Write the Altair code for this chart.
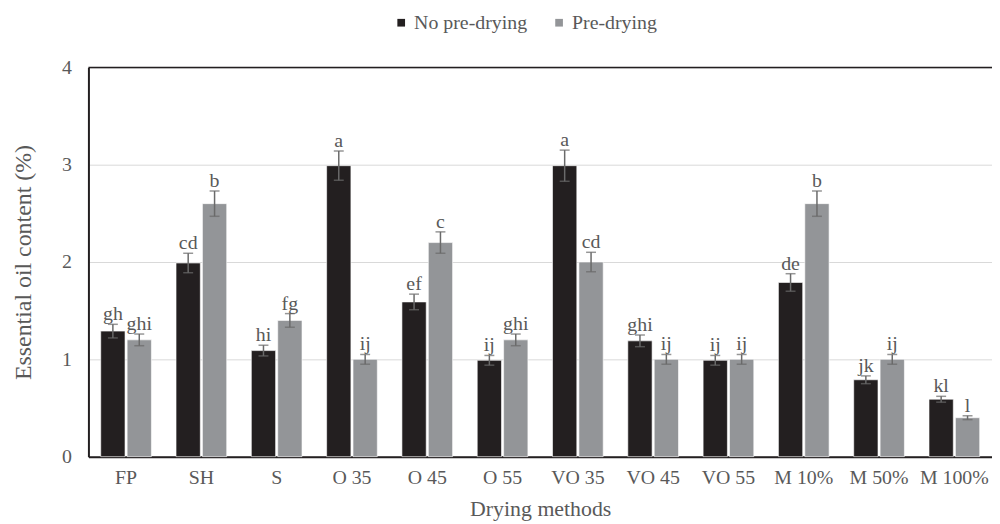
import altair as alt
import pandas as pd

methods = ["FP", "SH", "S", "O 35", "O 45", "O 55", "VO 35", "VO 45", "VO 55", "M 10%", "M 50%", "M 100%"]
series_names = ["No pre-drying", "Pre-drying"]

no_pre = [1.29, 1.99, 1.09, 2.99, 1.59, 0.99, 2.99, 1.19, 0.99, 1.79, 0.79, 0.59]
pre = [1.20, 2.60, 1.40, 1.00, 2.20, 1.20, 2.00, 1.00, 1.00, 2.60, 1.00, 0.40]
no_pre_err = [0.07, 0.10, 0.055, 0.15, 0.08, 0.05, 0.16, 0.06, 0.05, 0.09, 0.04, 0.03]
pre_err = [0.06, 0.13, 0.07, 0.05, 0.11, 0.06, 0.10, 0.05, 0.05, 0.13, 0.05, 0.02]
no_pre_letters = ["gh", "cd", "hi", "a", "ef", "ij", "a", "ghi", "ij", "de", "jk", "kl"]
pre_letters = ["ghi", "b", "fg", "ij", "c", "ghi", "cd", "ij", "ij", "b", "ij", "l"]

rows = []
for i, m in enumerate(methods):
    rows.append(dict(method=m, series=series_names[0], value=no_pre[i], err=no_pre_err[i], lbl=no_pre_letters[i]))
    rows.append(dict(method=m, series=series_names[1], value=pre[i], err=pre_err[i], lbl=pre_letters[i]))
df = pd.DataFrame(rows)
df["lo"] = df["value"] - df["err"]
df["hi"] = df["value"] + df["err"]

FONT = "Liberation Serif"
TXT = "#595959"
DARK = "#231f20"
GRAY = "#939598"
ERR = "#6a6a6a"
YT = "Essential oil content (%)"

base = alt.Chart(df).encode(
    x=alt.X("method:N", sort=methods, title="Drying methods",
            scale=alt.Scale(paddingInner=0.327, paddingOuter=0.1635)),
    xOffset=alt.XOffset("series:N", sort=series_names,
                        scale=alt.Scale(paddingInner=0.08, paddingOuter=0)),
)

yscale = alt.Scale(domain=[0, 4])

bars = base.mark_bar(stroke="white", strokeWidth=0.6).encode(
    y=alt.Y("value:Q", scale=yscale, title=YT,
            axis=alt.Axis(values=[0, 1, 2, 3, 4], format="d")),
    color=alt.Color("series:N", sort=series_names,
                    scale=alt.Scale(domain=series_names, range=[DARK, GRAY]),
                    legend=alt.Legend(title=None, orient="none", direction="horizontal",
                                      legendX=305, legendY=-55, symbolType="square",
                                      symbolSize=60, symbolStrokeWidth=0,
                                      labelFont=FONT, labelFontSize=20, labelColor=TXT,
                                      columnPadding=22, labelOffset=3)),
)

rules = base.mark_rule(color=ERR, strokeWidth=1.5).encode(
    y=alt.Y("lo:Q", scale=yscale, title=YT), y2="hi:Q")
cap_hi = base.mark_tick(color=ERR, size=10, thickness=1.5).encode(
    y=alt.Y("hi:Q", scale=yscale, title=YT))
cap_lo = base.mark_tick(color=ERR, size=10, thickness=1.5).encode(
    y=alt.Y("lo:Q", scale=yscale, title=YT))
labels = base.mark_text(baseline="alphabetic", dy=-4, font=FONT, fontSize=20, color=TXT).encode(
    y=alt.Y("hi:Q", scale=yscale, title=YT), text="lbl:N")

top = alt.Chart(pd.DataFrame({"v": [4]})).mark_rule(color=DARK, strokeWidth=1.5).encode(
    y=alt.Y("v:Q", scale=yscale, title=YT))

chart = alt.layer(bars, rules, cap_hi, cap_lo, labels, top).properties(
    width=910, height=392,
    autosize=alt.AutoSizeParams(type="none"),
    padding={"left": 81, "top": 58, "right": 0, "bottom": 66},
).configure(font=FONT).configure_view(stroke="#d9d9d9", strokeWidth=1).configure_axisY(
    grid=True, gridColor="#d9d9d9", gridWidth=1, domainColor=DARK, domainWidth=2,
    ticks=False, labelFont=FONT, labelFontSize=20, labelColor=TXT, labelPadding=17,
    titleFont=FONT, titleFontSize=24, titleColor=TXT, titleFontWeight="normal", titlePadding=26,
).configure_axisX(
    grid=False, domainColor=DARK, domainWidth=2, ticks=False, labelAngle=0,
    labelFont=FONT, labelFontSize=20, labelColor=TXT, labelPadding=11,
    titleFont=FONT, titleFontSize=22, titleColor=TXT, titleFontWeight="normal", titlePadding=11,
).configure_legend(labelFont=FONT, labelFontSize=20, labelColor=TXT)

chart.save("out.html", embed_options={"renderer": "svg", "actions": False})
